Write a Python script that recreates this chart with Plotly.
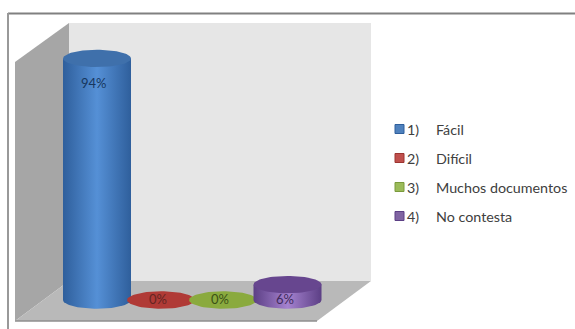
import numpy as np
import plotly.graph_objects as go

categories = ["1)", "2)", "3)", "4)"]
labels = ["Fácil", "Difícil", "Muchos documentos", "No contesta"]
values = [94, 0, 0, 6]
text_labels = ["94%", "0%", "0%", "6%"]
centers = [97, 161, 223, 287.5]
colors = ["#4f81bd", "#c0504d", "#9bbb59", "#8064a2"]
tops = ["#3f70ab", "#b03a36", "#8aaa3e", "#67468f"]
edges = ["#2f5f9c", "#9c3531", "#7a9a3c", "#5c3f85"]
mids = ["#5590d6", "#c0504d", "#9bbb59", "#a582cf"]

W, H = 575, 329
PX_PER_UNIT = 2.57
ZERO_PX = 300
RX, RY = 34, 8.7
ry_data = RY / PX_PER_UNIT
y_low = (ZERO_PX - H) / PX_PER_UNIT
y_high = ZERO_PX / PX_PER_UNIT

t = np.linspace(0, 2 * np.pi, 73)
fig = go.Figure()

for i, (c, v) in enumerate(zip(centers, values)):
    if v > 0:
        half = np.linspace(np.pi, 2 * np.pi, 37)
        xs = np.concatenate([c + RX * np.cos(half), [c + RX, c - RX, c - RX]])
        ys = np.concatenate([ry_data * np.sin(half), [v, v, 0]])
        fig.add_trace(go.Scatter(
            x=xs, y=ys, mode="lines", line=dict(width=0), fill="toself",
            fillgradient=dict(type="horizontal", colorscale=[[0, edges[i]], [0.5, mids[i]], [1, edges[i]]]),
            hoverinfo="skip", showlegend=False))
    fig.add_trace(go.Scatter(
        x=c + RX * np.cos(t), y=v + ry_data * np.sin(t), mode="lines",
        line=dict(width=0), fill="toself", fillcolor=tops[i],
        hoverinfo="skip", showlegend=False))

label_colors = ["#17375e", "#632523", "#3b5116", "#3f2a5a"]
for c, v, s, col in zip(centers, values, text_labels, label_colors):
    y = v - 9.6 if v > 50 else 0.4
    fig.add_annotation(x=c - 3, y=y, text=s, showarrow=False,
                       font=dict(family="Lato", size=13, color=col))


def px_path(pts):
    return "M" + " L".join(f"{x / W},{1 - y / H}" for x, y in pts) + " Z"


def wall(pts, fill):
    return dict(type="path", xref="paper", yref="paper", path=px_path(pts),
                fillcolor=fill, line=dict(width=0), layer="below")


def rule(x0, y0, x1, y1, col, w):
    return dict(type="line", xref="paper", yref="paper", x0=x0 / W, x1=x1 / W,
                y0=1 - y0 / H, y1=1 - y1 / H, line=dict(color=col, width=w), layer="below")


shapes = [
    rule(8, 13.5, 575, 13.5, "#808080", 2),
    rule(8, 13, 8, 329, "#999999", 2),
    wall([(69, 23), (371, 23), (371, 281), (69, 281)], "#e6e6e6"),
    wall([(69, 23), (15, 62), (15, 321), (69, 281)], "#a6a6a6"),
    wall([(15, 321), (69, 281), (371, 281), (317, 321)], "#b9b9b9"),
    rule(15, 321, 317, 321, "#8f8f8f", 1.5),
]

# Legend, laid out to match the reference's tight swatch-to-text spacing
legend_font = dict(family="Lato", size=14.3, color="#404040")
for i in range(4):
    yc = 129 + 29 * i
    shapes.append(dict(type="rect", xref="paper", yref="paper",
                       x0=395 / W, x1=404 / W, y0=1 - (yc - 4.5) / H, y1=1 - (yc + 4.5) / H,
                       fillcolor=colors[i], line=dict(color=edges[i], width=1)))
    fig.add_annotation(xref="paper", yref="paper", x=405 / W, y=1 - yc / H, text=categories[i],
                       xanchor="left", yanchor="middle", showarrow=False, font=legend_font)
    fig.add_annotation(xref="paper", yref="paper", x=434 / W, y=1 - yc / H, text=labels[i],
                       xanchor="left", yanchor="middle", showarrow=False, font=legend_font)

fig.update_layout(
    width=W, height=H, autosize=False, margin=dict(l=0, r=0, t=0, b=0),
    paper_bgcolor="white", plot_bgcolor="rgba(0,0,0,0)",
    font=dict(family="Lato", size=13, color="#404040"),
    showlegend=False,
    xaxis=dict(range=[0, W], visible=False, fixedrange=True),
    yaxis=dict(range=[y_low, y_high], visible=False, fixedrange=True),
    shapes=shapes,
)
fig.write_html("out.html", config={"displayModeBar": False},
               post_script="document.body.style.margin='0';")
